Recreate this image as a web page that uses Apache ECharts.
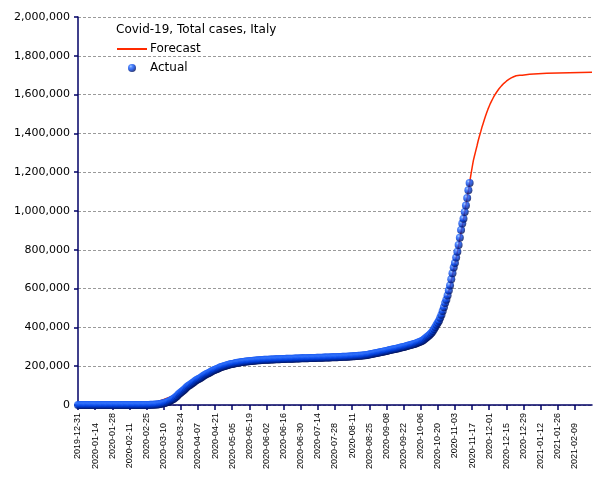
<!DOCTYPE html>
<html>
<head>
<meta charset="utf-8">
<script src="https://cdn.jsdelivr.net/npm/echarts@6/dist/echarts.min.js"></script>
<style>html,body{margin:0;padding:0;background:#fff}#c{width:605px;height:480px}</style>
</head>
<body>
<div id="c"></div>
<script>
const startDate = '2019-12-31';
const endDate = '2021-02-23';
const lastLabelDate = '2021-02-09';
const chartTitle = 'Covid-19, Total cases, Italy';
const seriesNames = ['Forecast', 'Actual'];
const yTicks = [0, 200000, 400000, 600000, 800000, 1000000, 1200000, 1400000, 1600000, 1800000, 2000000];

// Actual daily totals, starting 2019-12-31
const actDec2019 = [0];
const actJan = [0,0,0,0,0,0,0,0,0,0,0,0,0,0,0,0,0,0,0,0,0,0,0,0,0,0,0,0,0,0,2];
const actFeb = [2,2,2,2,2,2,2,2,2,2,2,2,2,2,2,2,2,2,2,2,2,20,79,155,229,322,400,650,888];
const actMar = [1128,1694,2036,2502,3089,3858,4636,5883,7375,9172,10149,12462,15113,17660,21157,24747,27980,31506,35713,41035,47021,53578,59138,63927,69176,74386,80539,86498,92472,97689,101739];
const actApr = [105792,110574,115242,119827,124632,128948,132547,135586,139422,143626,147577,152271,156363,159516,162488,165155,168941,172434,175925,178972,181228,183957,187327,189973,192994,195351,197675,199414,201505,203591];
const actMay = [205463,207428,209328,210717,211938,213013,214457,215858,217185,218268,219070,219814,221216,222104,223096,223885,224760,225435,225886,226699,227364,228006,228658,229327,229858,230158,230555,231139,231732,232248,232664];
const actJun = [233019,233197,233515,233836,234013,234531,234801,234998,235278,235561,235763,236142,236305,236651,236989,237290,237500,237828,238159,238011,238275,238499,238720,238833,239410,239706,239961,240136,240310,240436];
const actJul = [240578,240760,240961,241184,241419,241611,241819,241956,242149,242363,242639,242827,243061,243230,243344,243506,243736,243967,244216,244434,244624,244752,245032,245338,245590,245864,246118,246286,246488,246776,247158];
const actAug = [247537,247832,248070,248229,248419,248803,249204,249756,250103,250566,250825,251237,251713,252235,252809,253438,253915,254235,254636,255278,256118,257065,258136,259345,260298,261174,262540,263949,265409,267137,268218];
const actSep = [269214,270189,271515,272912,274644,276338,277634,278784,280153,281583,283180,284796,286297,287753,288761,290126,291442,293025,294932,296569,298156,299506,300897,302537,304323,306235,308104,309870,311364,312894];
const actOct = [314861,317409,319908,322751,325329,327586,330263,333940,338398,343770,349494,354950,359569,365467,372799,381602,391611,402536,414241,423578,434449,449648,465726,484869,504509,525782,542789,564778,589766,616595,647674];
const actNov = [679430,709335,731588,759829,790377,824879,862681,902490,935104,960373,995463,1028424,1066401,1107303,1144552];

// Forecast curve
const forecastDates = ['2019-12-31','2020-02-20','2020-02-25','2020-03-01','2020-03-05','2020-03-10','2020-03-15','2020-03-20','2020-03-25','2020-03-31',
  '2020-04-10','2020-04-20','2020-05-01','2020-05-15','2020-06-01','2020-07-01','2020-08-01','2020-08-20','2020-09-01','2020-09-15',
  '2020-10-01','2020-10-10','2020-10-20','2020-10-25','2020-10-30','2020-11-05','2020-11-10','2020-11-15',
  '2020-11-16','2020-11-17','2020-11-18','2020-11-19','2020-11-20','2020-11-21','2020-11-22','2020-11-23','2020-11-24','2020-11-25',
  '2020-11-26','2020-11-27','2020-11-28','2020-11-29','2020-11-30','2020-12-01','2020-12-02','2020-12-03','2020-12-04','2020-12-05',
  '2020-12-06','2020-12-07','2020-12-08','2020-12-09','2020-12-10','2020-12-11','2020-12-12','2020-12-13','2020-12-14','2020-12-15',
  '2020-12-16','2020-12-17','2020-12-18','2020-12-19','2020-12-20','2020-12-21','2020-12-23','2020-12-26','2020-12-28','2020-12-29',
  '2021-01-03','2021-01-04','2021-01-17','2021-01-18','2021-02-23'];
const forecastValues = [0,0,3000,9000,17000,28000,40000,52000,70000,97000,
  142000,178000,204000,221000,232000,240000,247000,255000,269000,287000,
  314000,342000,412000,500000,612000,790000,958000,1145000,
  1185000,1222000,1258000,1285000,1310000,1335000,1362000,1385000,1407000,1430000,
  1450000,1470000,1490000,1508000,1525000,1540000,1555000,1568000,1580000,1592000,
  1602000,1612000,1621000,1630000,1638000,1645000,1652000,1658000,1664000,1669000,
  1674000,1678000,1682000,1686000,1689000,1692000,1697000,1700000,1700000,1705000,
  1705000,1710000,1710000,1715000,1715000];

const DAY = 86400000;
const t0 = Date.parse(startDate);
function dayIndex(s) { return Math.round((Date.parse(s) - t0) / DAY); }
function dayLabel(d) { return new Date(t0 + d * DAY).toISOString().slice(0, 10); }

const actualValues = [].concat(actDec2019, actJan, actFeb, actMar, actApr, actMay, actJun, actJul, actAug, actSep, actOct, actNov);
const actualData = actualValues.map((v, i) => [i, v]);
const forecastData = forecastDates.map((d, i) => [dayIndex(d), forecastValues[i]]);

const navy = '#000066';
const ball = {
  type: 'radial', x: 0.35, y: 0.3, r: 0.72,
  colorStops: [
    { offset: 0, color: '#94c4ff' },
    { offset: 0.25, color: '#2c6eff' },
    { offset: 0.58, color: '#0040e0' },
    { offset: 1, color: '#000f58' }
  ]
};

const labelFont = { fontFamily: 'Liberation Sans', fontSize: 9, color: '#000' };
function tickLabel(parity) {
  return function (v) {
    if (v > dayIndex(lastLabelDate)) return '';
    return (Math.round(v / 14) % 2 === parity) ? dayLabel(v) : '';
  };
}
function makeX(parity, margin, showLine) {
  return {
    type: 'value', min: 0, max: dayIndex(endDate), interval: 14, position: 'bottom',
    axisLine: { show: showLine, lineStyle: { color: navy, width: 1.5 } },
    axisTick: { show: showLine, length: 5, lineStyle: { color: navy, width: 1.5 } },
    splitLine: { show: false },
    axisLabel: Object.assign({ rotate: 90, margin: margin, showMaxLabel: false, hideOverlap: false,
      formatter: tickLabel(parity) }, labelFont)
  };
}

const chart = echarts.init(document.getElementById('c'), null, { renderer: 'canvas' });
chart.setOption({
  animation: false,
  backgroundColor: '#fff',
  title: {
    text: chartTitle, left: 116, top: 24, padding: 0,
    textStyle: { fontFamily: 'DejaVu Sans', fontSize: 12, fontWeight: 'normal', color: '#000' }
  },
  legend: {
    data: [{ name: seriesNames[0], itemStyle: { opacity: 0 } }, { name: seriesNames[1] }],
    orient: 'vertical', left: 116, top: 43, padding: 0,
    itemWidth: 30, itemHeight: 8, itemGap: 7,
    textStyle: { fontFamily: 'DejaVu Sans', fontSize: 12, color: '#000', padding: [0, 0, 0, -2] }
  },
  grid: { left: 78, right: 13, top: 17, bottom: 75, containLabel: false },
  xAxis: [makeX(0, 8, true), makeX(1, 18, false)],
  yAxis: {
    type: 'value', min: yTicks[0], max: yTicks[yTicks.length - 1], interval: yTicks[1] - yTicks[0],
    axisLine: { show: true, lineStyle: { color: navy, width: 1.5 } },
    axisTick: { show: true, length: 4, lineStyle: { color: navy, width: 1.5 } },
    splitLine: { show: true, lineStyle: { color: '#9a9a9a', type: [3, 2], width: 1 } },
    axisLabel: {
      margin: 8, fontFamily: 'DejaVu Sans', fontSize: 11, color: '#000',
      formatter: v => v.toLocaleString('en-US')
    }
  },
  series: [
    {
      name: seriesNames[0], type: 'line', xAxisIndex: 0, data: forecastData, symbol: 'none',
      lineStyle: { color: '#ff2a00', width: 1.5 }, itemStyle: { color: '#ff2a00' }, z: 2
    },
    {
      name: seriesNames[1], type: 'scatter', xAxisIndex: 0, data: actualData, symbol: 'circle', symbolSize: 8,
      itemStyle: { color: ball }, z: 3
    }
  ]
});
</script>
</body>
</html>
